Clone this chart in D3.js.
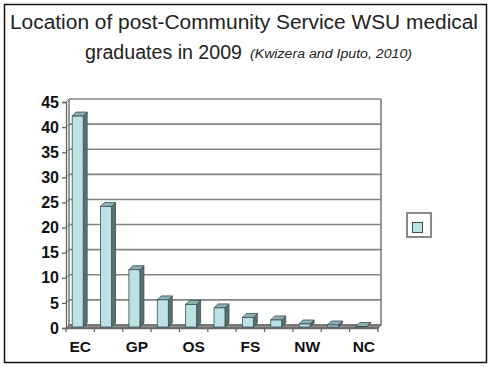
<!DOCTYPE html>
<html>
<head>
<meta charset="utf-8">
<script src="https://cdn.jsdelivr.net/npm/d3@7"></script>
<style>
  body { margin: 0; background: #fff; }
  svg { display: block; font-family: "Liberation Sans", Arial, sans-serif; }
</style>
</head>
<body>
<div class="chart"></div>
<script>
// data
var tickLabels = ["EC", "", "GP", "", "OS", "", "FS", "", "NW", "", "NC"];
var values = [42.2, 24.2, 11.6, 5.6, 4.7, 4.0, 2.1, 1.6, 0.8, 0.6, 0.1];
var yTicks = [0, 5, 10, 15, 20, 25, 30, 35, 40, 45];

// graph
var width = 491, height = 367,
    plot = {left: 66, right: 378, top: 102, bottom: 328},
    depth = 3, barDepth = 4;

var svg = d3.select(".chart").append("svg")
    .attr("width", width)
    .attr("height", height);

svg.append("rect")
    .attr("x", 4.5).attr("y", 4.5)
    .attr("width", 482).attr("height", 358)
    .attr("fill", "#fff")
    .attr("stroke", "#111")
    .attr("stroke-width", 1.5);

// title (text in the picture is a bit wide, so stretch to measured lengths)
svg.append("text")
    .attr("x", 10).attr("y", 29)
    .attr("textLength", 468).attr("lengthAdjust", "spacingAndGlyphs")
    .style("font-size", "20px")
    .attr("fill", "#222")
    .text("Location of post-Community Service WSU medical");

svg.append("text")
    .attr("x", 85).attr("y", 59)
    .attr("textLength", 157).attr("lengthAdjust", "spacingAndGlyphs")
    .style("font-size", "20px")
    .attr("fill", "#222")
    .text("graduates in 2009");

svg.append("text")
    .attr("x", 250).attr("y", 58)
    .attr("textLength", 162).attr("lengthAdjust", "spacingAndGlyphs")
    .style("font-size", "12.5px").style("font-style", "italic")
    .attr("fill", "#222")
    .text("(Kwizera and Iputo, 2010)");

// scales
var x = d3.scaleBand()
    .domain(d3.range(values.length))
    .range([plot.left, plot.right]);

var y = d3.scaleLinear()
    .domain([0, 45])
    .range([plot.bottom, plot.top]);

// back wall + gridlines
var g = svg.append("g");

g.selectAll(".grid")
    .data(yTicks.filter(d => d > 0))
  .enter().append("line")
    .attr("x1", plot.left + depth).attr("x2", plot.right + depth)
    .attr("y1", d => y(d) - depth).attr("y2", d => y(d) - depth)
    .attr("stroke", "#858585").attr("stroke-width", 1.6);

g.selectAll(".gridside")
    .data(yTicks)
  .enter().append("line")
    .attr("x1", plot.left).attr("x2", plot.left + depth)
    .attr("y1", d => y(d)).attr("y2", d => y(d) - depth)
    .attr("stroke", "#858585").attr("stroke-width", 1);

g.append("path")
    .attr("d", "M" + (plot.left + depth) + "," + (y(45) - depth) +
               "V" + (plot.bottom - depth) + "H" + (plot.right + depth) +
               "V" + (y(45) - depth))
    .attr("fill", "none").attr("stroke", "#777").attr("stroke-width", 1.5);

// floor
g.append("path")
    .attr("d", "M" + plot.left + "," + plot.bottom + "L" + (plot.left + depth) + "," + (plot.bottom - depth) +
               "H" + (plot.right + depth) + "L" + plot.right + "," + plot.bottom + "Z")
    .attr("fill", "#8f8f8f").attr("stroke", "#5a5a5a").attr("stroke-width", 1);

// bars
var bw = 11;
var bars = svg.selectAll(".bar")
    .data(values)
  .enter().append("g")
    .attr("class", "bar");

bars.each(function(d, i) {
  var cx = x(i) + x.bandwidth() / 2 - 0.5,
      x0 = cx - (bw + barDepth) / 2,
      x1 = x0 + bw,
      y0 = plot.bottom - 1,
      y1 = Math.min(y(d), y0 - 0.5),
      el = d3.select(this);
  // side
  el.append("path")
    .attr("d", "M" + x1 + "," + y0 + "V" + y1 + "l" + barDepth + "," + (-barDepth) +
               "V" + (y0 - barDepth) + "Z")
    .attr("fill", "#567172").attr("stroke", "#3a4e4f").attr("stroke-width", 0.8);
  // top
  el.append("path")
    .attr("d", "M" + x0 + "," + y1 + "H" + x1 + "l" + barDepth + "," + (-barDepth) +
               "H" + (x0 + barDepth) + "Z")
    .attr("fill", "#8fb1b2").attr("stroke", "#3a4e4f").attr("stroke-width", 0.8);
  // front
  el.append("rect")
    .attr("x", x0).attr("y", y1)
    .attr("width", bw).attr("height", y0 - y1)
    .attr("fill", "#bce2e5").attr("stroke", "#3a4e4f").attr("stroke-width", 0.8);
});

// y axis
var yAxis = svg.append("g")
    .attr("transform", "translate(" + plot.left + ",0)")
    .call(d3.axisLeft(y).tickValues(yTicks).tickSize(4).tickPadding(3));
yAxis.selectAll("text").style("font-size", "16px").style("font-weight", "bold")
    .attr("fill", "#111").style("font-family", "Liberation Sans, Arial, sans-serif");
yAxis.selectAll("line, path").attr("stroke", "#666").attr("stroke-width", 1.3);

// x axis
var xAxis = svg.append("g")
    .attr("transform", "translate(0," + plot.bottom + ")")
    .call(d3.axisBottom(x).tickSize(0).tickPadding(13).tickFormat(i => tickLabels[i]));
xAxis.select(".domain").attr("stroke", "#666").attr("stroke-width", 1.3);
xAxis.selectAll("text").style("font-size", "15.5px").style("font-weight", "bold")
    .attr("fill", "#111").style("font-family", "Liberation Sans, Arial, sans-serif");

svg.selectAll(".xtick")
    .data(d3.range(values.length + 1))
  .enter().append("line")
    .attr("x1", i => plot.left + i * x.step()).attr("x2", i => plot.left + i * x.step())
    .attr("y1", plot.bottom).attr("y2", plot.bottom + 4)
    .attr("stroke", "#666").attr("stroke-width", 1.3);

// legend
svg.append("rect")
    .attr("x", 407).attr("y", 213)
    .attr("width", 24).attr("height", 24)
    .attr("fill", "#fff").attr("stroke", "#888").attr("stroke-width", 2);
svg.append("rect")
    .attr("x", 412.5).attr("y", 222.5)
    .attr("width", 10).attr("height", 10)
    .attr("fill", "#bce2e5").attr("stroke", "#3a4e4f").attr("stroke-width", 1);
</script>
</body>
</html>
